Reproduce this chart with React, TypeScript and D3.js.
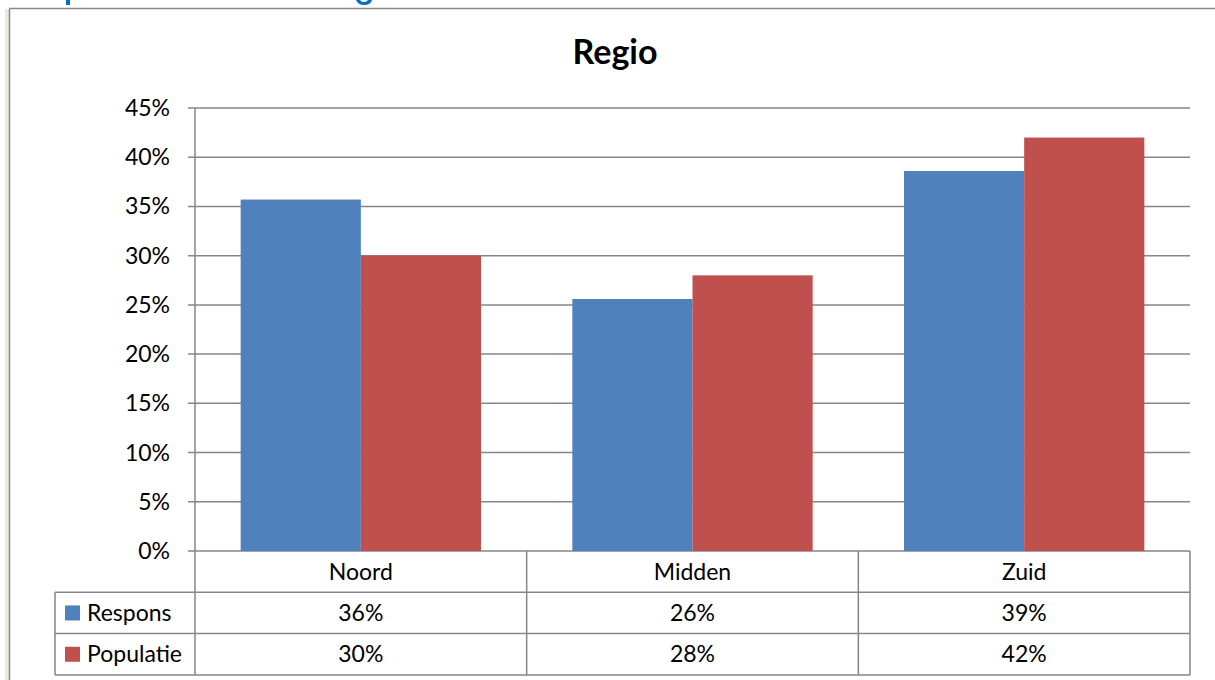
import React from "react";
import * as d3 from "d3";

const categories = ["Noord", "Midden", "Zuid"];
const seriesNames = ["Respons", "Populatie"];
const respons = [35.7, 25.6, 38.6];
const populatie = [30.0, 28.0, 42.0];
const tableRespons = ["36%", "26%", "39%"];
const tablePopulatie = ["30%", "28%", "42%"];
const yTicks = [0, 5, 10, 15, 20, 25, 30, 35, 40, 45];
const colors = ["#4F81BD", "#C0504D"];

const W = 1215;
const H = 680;
const plotL = 195;
const plotR = 1190;
const plotT = 108;
const plotB = 551;
const rowH = 41.3;
const tableL = 55;
const FONT = "Lato, 'Open Sans', sans-serif";
const FS = 23;

export default function App() {
  const x0 = d3.scaleBand<string>().domain(categories).range([plotL, plotR]).paddingInner(0).paddingOuter(0);
  const x1 = d3.scaleBand<string>().domain(seriesNames).range([0, x0.bandwidth()]).paddingOuter(0.38).paddingInner(0);
  const y = d3.scaleLinear().domain([0, 45]).range([plotB, plotT]);
  const series = [respons, populatie];
  const tableRows = [tableRespons, tablePopulatie];
  const grid = "#868686";

  return (
    <svg width={W} height={H} style={{ position: "absolute", left: 0, top: 0, background: "#fff" }}>
      {/* page fragments */}
      <rect x={5} y={9} width={4} height={H - 9} fill="#ECE9D8" />
      <line x1={9.5} y1={9} x2={9.5} y2={H} stroke="#8a8a8a" strokeWidth={1.5} />
      <line x1={9} y1={8.5} x2={W} y2={8.5} stroke="#8a8a8a" strokeWidth={1.5} />
      <rect x={66} y={0} width={4} height={5} fill="#0070C0" />
      <path d="M356,0 Q358,5 364,5 Q371,5 372,0 L368,0 Q367,2 364,2 Q361,2 360,0 Z" fill="#0070C0" />

      <text x={615} y={64} textAnchor="middle" fontFamily={FONT} fontWeight="bold" fontSize={34} fill="#000">Regio</text>

      {/* gridlines and y ticks */}
      {yTicks.map((t) => (
        <g key={t}>
          <line x1={188} x2={plotR} y1={y(t)} y2={y(t)} stroke={grid} strokeWidth={1.5} />
          <text x={170} y={y(t)} dy="0.35em" textAnchor="end" fontFamily={FONT} fontSize={FS} fill="#000">{t}%</text>
        </g>
      ))}
      <line x1={plotL} x2={plotL} y1={plotT} y2={plotB} stroke={grid} strokeWidth={1.5} />

      {/* bars */}
      {categories.map((c, i) => (
        <g key={c} transform={`translate(${x0(c)},0)`}>
          {seriesNames.map((s, j) => (
            <rect key={s} x={x1(s)} y={y(series[j][i])} width={x1.bandwidth()} height={plotB - y(series[j][i])} fill={colors[j]} />
          ))}
        </g>
      ))}

      {/* data table */}
      {[1, 2, 3].map((r) => (
        <line key={r} x1={tableL} x2={plotR} y1={plotB + r * rowH} y2={plotB + r * rowH} stroke={grid} strokeWidth={1.5} />
      ))}
      <line x1={tableL} x2={tableL} y1={plotB + rowH} y2={plotB + 3 * rowH} stroke={grid} strokeWidth={1.5} />
      {categories.map((c) => (
        <line key={c} x1={(x0(c) as number) + x0.bandwidth()} x2={(x0(c) as number) + x0.bandwidth()} y1={plotB} y2={plotB + 3 * rowH} stroke={grid} strokeWidth={1.5} />
      ))}
      <line x1={plotL} x2={plotL} y1={plotB} y2={plotB + 3 * rowH} stroke={grid} strokeWidth={1.5} />

      {categories.map((c) => (
        <text key={c} x={(x0(c) as number) + x0.bandwidth() / 2} y={plotB + rowH / 2} dy="0.35em" textAnchor="middle" fontFamily={FONT} fontSize={FS} fill="#000">{c}</text>
      ))}
      {seriesNames.map((s, j) => (
        <g key={s}>
          <rect x={65} y={plotB + (j + 1) * rowH + rowH / 2 - 7.5} width={15} height={15} fill={colors[j]} />
          <text x={87} y={plotB + (j + 1.5) * rowH} dy="0.35em" fontFamily={FONT} fontSize={FS} fill="#000">{s}</text>
          {categories.map((c, i) => (
            <text key={c} x={(x0(c) as number) + x0.bandwidth() / 2} y={plotB + (j + 1.5) * rowH} dy="0.35em" textAnchor="middle" fontFamily={FONT} fontSize={FS} fill="#000">{tableRows[j][i]}</text>
          ))}
        </g>
      ))}
    </svg>
  );
}
